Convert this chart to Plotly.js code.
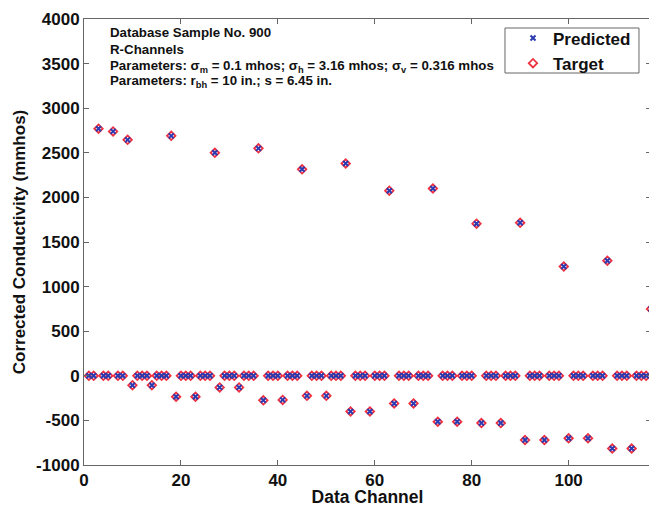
<!DOCTYPE html>
<html>
<head>
<meta charset="utf-8">
<script src="https://cdn.plot.ly/plotly-3.0.1.min.js"></script>
<style>
html,body{margin:0;padding:0;background:#fff;overflow:hidden;}
#chart{width:651px;height:507px;}
</style>
</head>
<body>
<div id="chart"></div>
<script>
// Data channel index
const channels = [
  1,2,3,4,5,6,7,8,9,10,11,12,13,14,15,16,17,18,19,20,
  21,22,23,24,25,26,27,28,29,30,31,32,33,34,35,36,37,38,39,40,
  41,42,43,44,45,46,47,48,49,50,51,52,53,54,55,56,57,58,59,60,
  61,62,63,64,65,66,67,68,69,70,71,72,73,74,75,76,77,78,79,80,
  81,82,83,84,85,86,87,88,89,90,91,92,93,94,95,96,97,98,99,100,
  101,102,103,104,105,106,107,108,109,110,111,112,113,114,115,116,117
];
// Corrected conductivity (mmhos), predicted
const predicted = [
  0,0,2770,0,0,2740,0,0,2645,
  -105,0,0,0,-105,0,0,0,2690,
  -235,0,0,0,-235,0,0,0,2500,
  -130,0,0,0,-130,0,0,0,2550,
  -275,0,0,0,-270,0,0,0,2315,
  -225,0,0,0,-225,0,0,0,2380,
  -400,0,0,0,-400,0,0,0,2075,
  -310,0,0,0,-310,0,0,0,2100,
  -515,0,0,0,-515,0,0,0,1705,
  -530,0,0,0,-530,0,0,0,1715,
  -720,0,0,0,-720,0,0,0,1225,
  -700,0,0,0,-700,0,0,0,1290,
  -815,0,0,0,-815,0,0,0,750
];
// Corrected conductivity (mmhos), target
const target = [
  0,0,2770,0,0,2740,0,0,2645,
  -105,0,0,0,-105,0,0,0,2690,
  -235,0,0,0,-235,0,0,0,2500,
  -130,0,0,0,-130,0,0,0,2550,
  -275,0,0,0,-270,0,0,0,2315,
  -225,0,0,0,-225,0,0,0,2380,
  -400,0,0,0,-400,0,0,0,2075,
  -310,0,0,0,-310,0,0,0,2100,
  -515,0,0,0,-515,0,0,0,1705,
  -530,0,0,0,-530,0,0,0,1715,
  -720,0,0,0,-720,0,0,0,1225,
  -700,0,0,0,-700,0,0,0,1290,
  -815,0,0,0,-815,0,0,0,750
];
const xTicks = [0,20,40,60,80,100];
const yTicks = [-1000,-500,0,500,1000,1500,2000,2500,3000,3500,4000];
const infoLines = [
  "Database Sample No. 900",
  "R-Channels",
  "Parameters: σ<sub>m</sub> = 0.1 mhos; σ<sub>h</sub> = 3.16 mhos; σ<sub>v</sub> = 0.316 mhos",
  "Parameters: r<sub>bh</sub> = 10 in.; s = 6.45 in."
];
const infoY = [0.9693, 0.9305, 0.893, 0.8594];

const FONT = "Liberation Sans, Arial, Helvetica, sans-serif";

const traces = [
  {
    x: channels, y: target, type: "scatter", mode: "markers", name: "Target",
    marker: {symbol: "diamond-open", size: 6.5, color: "#f03040", line: {width: 1.8, color: "#f03040"}}
  },
  {
    x: channels, y: predicted, type: "scatter", mode: "markers", name: "Predicted",
    marker: {symbol: "x-thin-open", size: 5, color: "#2a3ab0", line: {width: 2, color: "#2a3ab0"}}
  }
];

const axisCommon = {
  showgrid: false, zeroline: false, showline: true, mirror: "ticks",
  linecolor: "#666", linewidth: 1, ticks: "inside", ticklen: 5, tickcolor: "#666",
  tickfont: {family: FONT, size: 17, color: "#111", weight: "bold"}
};

const layout = {
  width: 651, height: 507,
  margin: {l: 84, r: 0, t: 19, b: 42},
  paper_bgcolor: "#fff", plot_bgcolor: "#fff",
  showlegend: true,
  legend: {
    x: 0.7566, y: 0.9966, xanchor: "left", yanchor: "top",
    traceorder: "reversed",
    bgcolor: "rgba(0,0,0,0)", borderwidth: 0,
    font: {family: FONT, size: 17, color: "#111", weight: "bold"}
  },
  shapes: [{
    type: "rect", xref: "paper", yref: "paper",
    x0: 0.7425, x1: 0.9788, y0: 0.8789, y1: 0.9798,
    line: {color: "#666", width: 1}, fillcolor: "#fff", layer: "below"
  }],
  xaxis: Object.assign({}, axisCommon, {
    range: [0, 117], tickvals: xTicks, ticktext: xTicks.map(String),
    title: {text: "Data Channel", font: {family: FONT, size: 17.5, color: "#111", weight: "bold"}, standoff: 4}
  }),
  yaxis: Object.assign({}, axisCommon, {
    range: [-1000, 4000], tickvals: yTicks, ticktext: yTicks.map(String),
    title: {text: "Corrected Conductivity (mmhos)", font: {family: FONT, size: 17, color: "#111", weight: "bold"}, standoff: 6}
  }),
  annotations: infoLines.map((t, i) => ({
    xref: "paper", yref: "paper", x: 0.0432, y: infoY[i],
    xanchor: "left", yanchor: "middle", showarrow: false, align: "left",
    text: t, font: {family: FONT, size: 13.3, color: "#111", weight: "bold"}
  }))
};

Plotly.newPlot("chart", traces, layout, {displayModeBar: false, staticPlot: true});
</script>
</body>
</html>
